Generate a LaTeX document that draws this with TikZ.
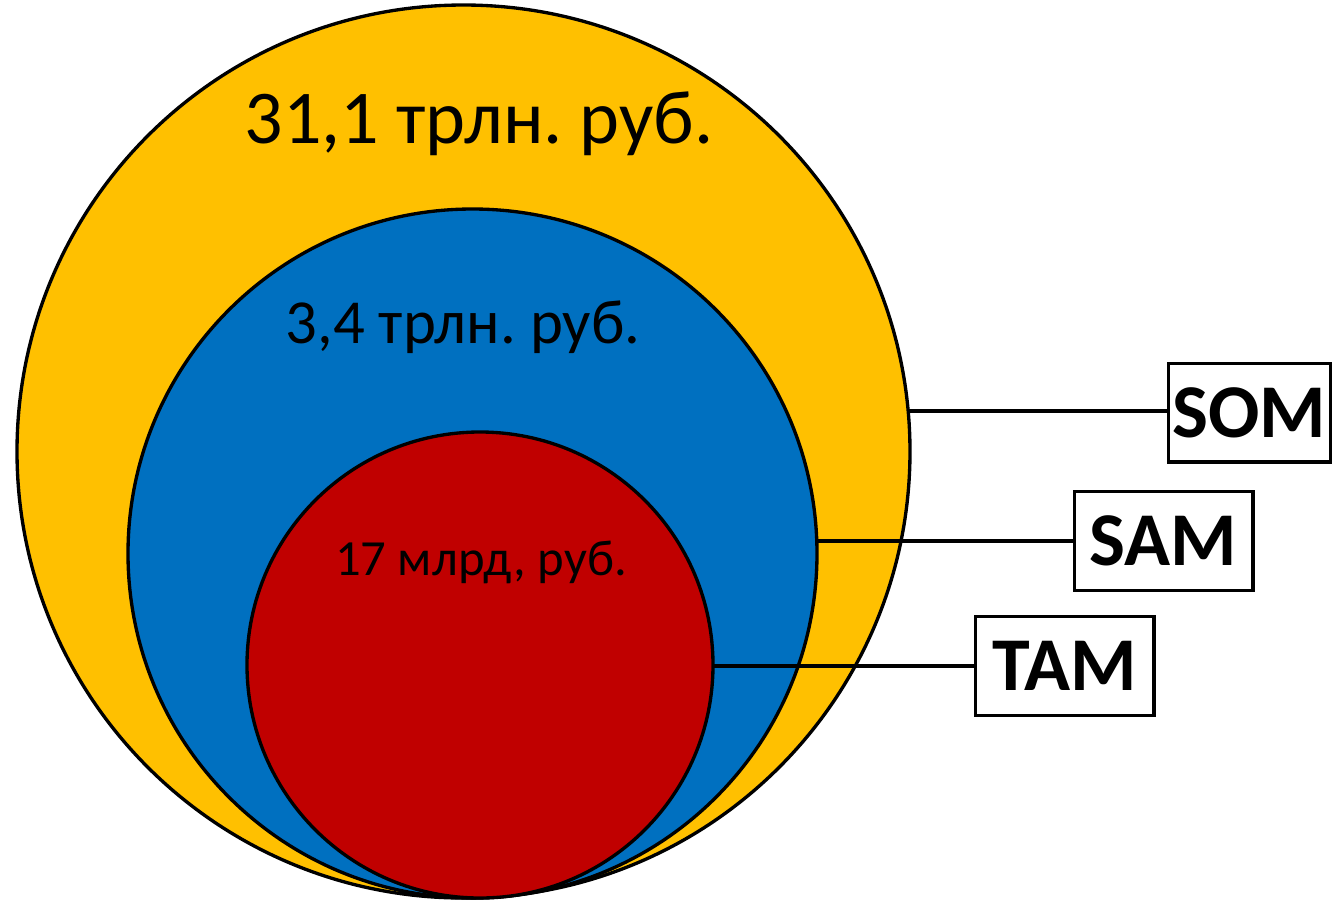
\documentclass[tikz,border=0pt]{standalone}
\usepackage{fontspec}
\setmainfont{Carlito}
\frenchspacing
\definecolor{somfill}{HTML}{FFC000}
\definecolor{samfill}{HTML}{0070C0}
\definecolor{tamfill}{HTML}{C00000}
\begin{document}
\begin{tikzpicture}[x=0.75pt,y=-0.75pt,
  market/.style={draw=black,line width=2.5pt},
  tag/.style={draw=black,line width=2.5pt,fill=white,font=\bfseries\fontsize{57}{60}\selectfont,
    minimum width=#1,minimum height=74pt,inner sep=0pt},
  lead/.style={line width=2.5pt},
  value/.style={anchor=base,inner sep=0pt}]
\useasboundingbox (0,0) rectangle (1332,901);
% nested market circles
\node[market,fill=somfill,circle,minimum size=893*0.75pt,inner sep=0pt] (som) at (463.5,451.5) {};
\node[market,fill=samfill,circle,minimum size=689*0.75pt,inner sep=0pt] (sam) at (472.5,553.5) {};
\node[market,fill=tamfill,circle,minimum size=466*0.75pt,inner sep=0pt] (tam) at (480,665) {};
% market sizes
\node[value,font=\fontsize{57}{60}\selectfont] (somv) at (479,143) {31,1 трлн. руб.};
\node[value,font=\fontsize{47}{50}\selectfont] (samv) at (463,343) {3,4 трлн. руб.};
\node[value,font=\fontsize{38}{40}\selectfont] (tamv) at (481,575) {17 млрд, руб.};
% labels
\node[tag=121.5pt] (somt) at (1249.5,412.5) {SOM};
\node[tag=134pt] (samt) at (1163.5,541) {SAM};
\node[tag=134pt] (tamt) at (1064.5,666) {TAM};
% leaders
\coordinate (somp) at (908.5,411);
\coordinate (samp) at (816,541);
\coordinate (tamp) at (713,666);
\draw[lead] (somp) -- (somt.west |- somp);
\draw[lead] (samp) -- (samt.west |- samp);
\draw[lead] (tamp) -- (tamt.west |- tamp);
\end{tikzpicture}
\end{document}
